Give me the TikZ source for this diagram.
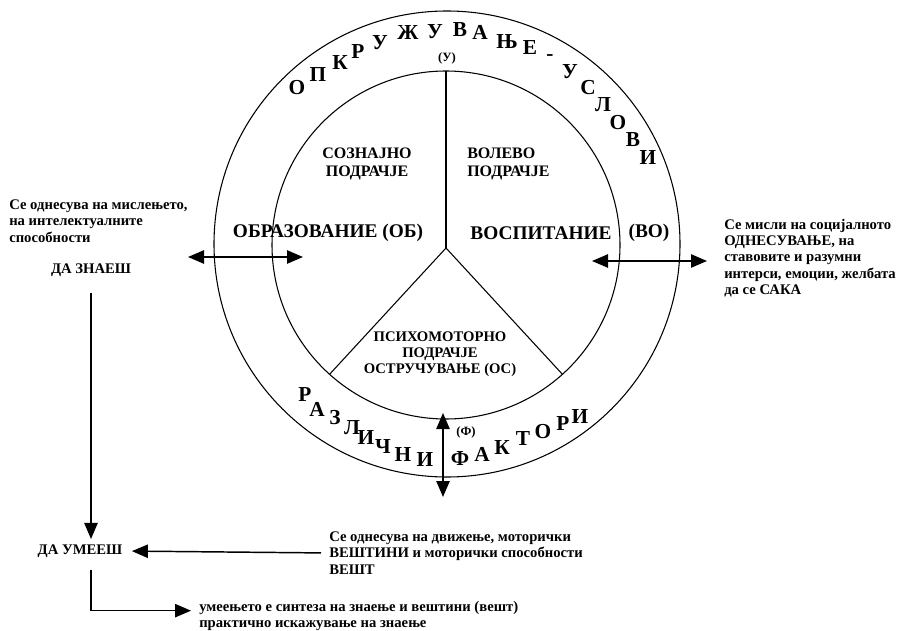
\documentclass[tikz,border=0pt]{standalone}
\usepackage{fontspec}
\setmainfont{Liberation Serif}
\usetikzlibrary{arrows.meta, calc, positioning}

\begin{document}
\begin{tikzpicture}[x=0.75pt, y=-0.75pt,
    testo/.style={font=\bfseries\fontsize{11}{12.2}\selectfont, inner sep=0pt, align=left},
    area/.style={font=\bfseries\fontsize{12}{13.5}\selectfont, inner sep=0pt},
    grande/.style={font=\bfseries\fontsize{14.5}{16}\selectfont, inner sep=0pt},
    lettera/.style={font=\bfseries\fontsize{16}{18}\selectfont, inner sep=0pt},
    piccolo/.style={font=\bfseries\fontsize{9.5}{11}\selectfont, inner sep=0pt},
    freccia/.style={line width=1.1pt, -{Triangle[length=12pt, width=10pt]}},
    doppia/.style={line width=1.1pt, {Triangle[length=12pt, width=10pt]}-{Triangle[length=12pt, width=10pt]}}]
    \useasboundingbox (0,0) rectangle (897,631);
    %Parametri
    \pgfmathsetmacro{\rest}{233}
    \pgfmathsetmacro{\rint}{174}
    % Centri
    \coordinate (ce) at (447,244);
    \coordinate (ci) at (446,245);
    \coordinate (y) at (446,248);
    % Cerchi
    \draw[line width=0.8pt] (ce) circle[radius=\rest];
    \draw[line width=0.8pt] (ci) circle[radius=\rint];
    % Settori
    \draw[line width=0.8pt] (y) -- ($(ci)+(270:\rint)$);
    \draw[line width=0.8pt] (y) -- ($(ci)+(132:\rint)$);
    \draw[line width=0.8pt] (y) -- ($(ci)+(48:\rint)$);
    % Anello: lettere sopra
    \foreach \l/\x/\y [count=\i] in {О/297/88, П/318/75, К/340/63, Р/358/52, У/380/43, Ж/408/33, У/435/32, В/460/30, А/480/32, Њ/507/42, Е/530/48, -/550/58, У/570/72, С/588/88, Л/603/105, О/618/123, В/633/140, И/648/158}
        \node[lettera] (s\i) at (\x,\y) {\l};
    % Anello: lettere sotto
    \foreach \l/\x/\y [count=\i] in {Р/305/395, А/317/409, З/335/418, Л/352/428, И/366/438, Ч/383/447, Н/403/455, И/425/460, Ф/460/459, А/482/454, К/502/448, Т/523/439, О/543/432, Р/563/424, И/580/417}
        \node[lettera] (g\i) at (\x,\y) {\l};
    \node[piccolo] (u) at (447,58) {(У)};
    \node[piccolo] (f) at (466,432) {(Ф)};
    % Aree
    \node[area, align=center] (soznajno) at (367,164) {СОЗНАЈНО\\ПОДРАЧЈЕ};
    \node[area, align=left, anchor=west] (volevo) at (467,164) {ВОЛЕВО\\ПОДРАЧЈЕ};
    \node[grande] (obraz) at (328,233) {ОБРАЗОВАНИЕ (ОБ)};
    \node[grande] (vospit) at (541,233) {ВОСПИТАНИЕ};
    \node[grande] (vo) at (649,233) {(ВО)};
    \node[testo, align=center] (psiho) at (440,354) {ПСИХОМОТОРНО\\ПОДРАЧЈЕ\\ОСТРУЧУВАЊЕ (ОС)};
    % Frecce doppie
    \coordinate (sx1) at (188,257);
    \coordinate (sx2) at (303,257);
    \coordinate (dx1) at (592,261);
    \coordinate (dx2) at (707,261);
    \coordinate (gi1) at (443,413);
    \coordinate (gi2) at (443,497);
    \draw[doppia] (sx1) -- (sx2);
    \draw[doppia] (dx1) -- (dx2);
    \draw[doppia] (gi1) -- (gi2);
    % Testi laterali
    \node[testo, anchor=west] (mislenje) at (9,221) {Се однесува на мислењето,\\на интелектуалните\\способности};
    \node[testo] (znaes) at (91,270) {ДА ЗНАЕШ};
    \node[testo, anchor=west] (socijalno) at (724,258) {Се мисли на социјалното\\ОДНЕСУВАЊЕ, на\\ставовите и разумни\\интерси, емоции, желбата\\да се САКА};
    \node[testo] (umees) at (80,551) {ДА УМЕЕШ};
    \node[testo, anchor=west] (dvizenje) at (329,553) {Се однесува на движење, моторички\\ВЕШТИНИ и моторички способности\\ВЕШТ};
    \node[testo, anchor=west] (sinteza) at (199,616) {умеењето е синтеза на знаење и вештини (вешт)\\практично искажување на знаење};
    % Frecce a sinistra
    \draw[freccia, shorten <=12pt, shorten >=4pt] (znaes.south) -- (znaes.south |- umees.north);
    \draw[freccia, shorten <=6pt, shorten >=7pt] (dvizenje.west) -- (umees.east);
    \draw[freccia, shorten <=9pt, shorten >=6pt] (znaes.south |- umees.south) |- ([yshift=4pt]sinteza.west);
\end{tikzpicture}
\end{document}
